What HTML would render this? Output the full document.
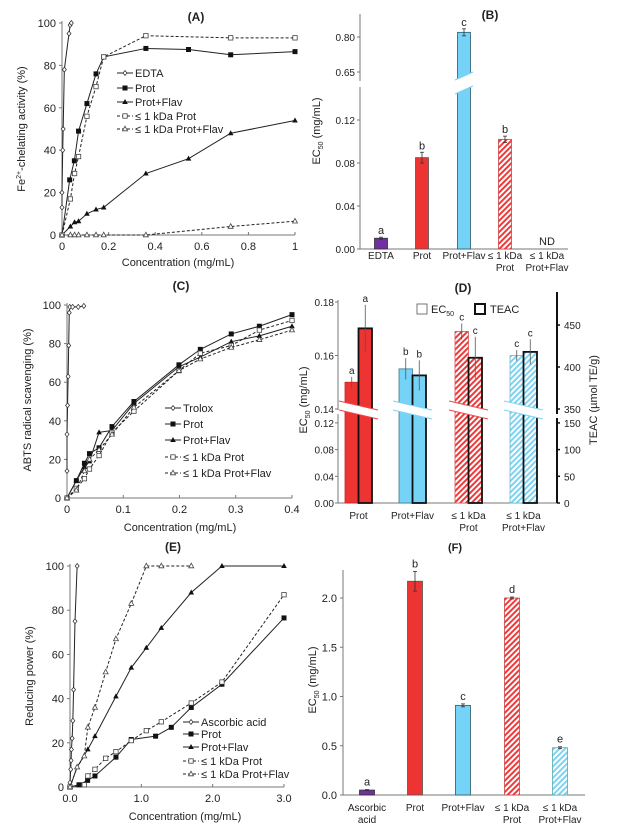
<!DOCTYPE html>
<html><head><meta charset="utf-8"><style>
html,body{margin:0;padding:0;background:#fff;}
svg{display:block;font-family:"Liberation Sans",Arial,sans-serif;}
</style></head><body>
<svg id="fig" width="617" height="828" viewBox="0 0 617 828" xmlns="http://www.w3.org/2000/svg">
<defs>
<pattern id="redHatch" patternUnits="userSpaceOnUse" width="4" height="4" patternTransform="rotate(45)">
<rect width="4" height="4" fill="#fff"/><rect width="2" height="4" fill="#ee3a3a"/></pattern>
<pattern id="blueHatch" patternUnits="userSpaceOnUse" width="4" height="4" patternTransform="rotate(45)">
<rect width="4" height="4" fill="#fff"/><rect width="2" height="4" fill="#7dd3f2"/></pattern>
</defs>
</svg>
<script>
// ===== Panel A data =====
const aEdtaX=[0,0,0.003,0.005,0.01,0.03,0.035,0.04];
const aEdtaY=[13,20,40,50,78,95,99,100];
const aProtX=[0,0.033,0.053,0.071,0.107,0.146,0.179,0.36,0.543,0.724,1];
const aProtY=[0,26,35,49,62,76,84,88,87.5,85,86.5];
const aFlavX=[0,0.036,0.054,0.071,0.107,0.146,0.179,0.36,0.543,0.724,1];
const aFlavY=[0,4,6,6.5,10,12,13,29,36,48,54];
const aSmallProtX=[0,0.036,0.054,0.071,0.107,0.146,0.179,0.36,0.724,1];
const aSmallProtY=[0,17,29,37,56,70,84,94,93,93];
const aSmallFlavX=[0,0.036,0.054,0.071,0.107,0.146,0.179,0.36,0.724,1];
const aSmallFlavY=[0,0,0,0,0,0,0,0,4,6.5];
const aXTicks=[0,0.2,0.4,0.6,0.8,1];
const aXTickLabels=["0","0.2","0.4","0.6","0.8","1"];
const aYTicks=[0,20,40,60,80,100];
// ===== Panel B data =====
const bCats=["EDTA","Prot","Prot+Flav","≤ 1 kDa|Prot","≤ 1 kDa|Prot+Flav"];
const bVals=[0.010,0.085,0.82,0.102,null];
const bErr=[0.001,0.005,0.015,0.003,0];
const bLetters=["a","b","c","b","ND"];
const bLowTicks=[0,0.04,0.08,0.12];
const bLowTickLabels=["0.00","0.04","0.08","0.12"];
const bHighTicks=[0.65,0.80];
const bHighTickLabels=["0.65","0.80"];
// ===== Panel C data =====
const cTroloxX=[0,0,0.001,0.002,0.003,0.004,0.005,0.01,0.02,0.03];
const cTroloxY=[14,33,48,63,79,96,99,99,99,99.5];
const cX=[0,0.0166,0.031,0.04,0.057,0.08,0.119,0.199,0.237,0.292,0.342,0.4];
const cProtY=[0,9,18,23,26,37,50,69,77,85,89,95];
const cFlavY=[0,9,16,19,34,35,49,68,73,81,84,89];
const cSmallProtY=[0,5,10,15,22,34,45,66,75,79,87,92];
const cSmallFlavY=[0,4,14,20,25,33,47,66,72,78,82,87];
const cXTicks=[0,0.1,0.2,0.3,0.4];
const cXTickLabels=["0","0.1","0.2","0.3","0.4"];
const cYTicks=[0,20,40,60,80,100];
// ===== Panel D data =====
const dCats=["Prot","Prot+Flav","≤ 1 kDa|Prot","≤ 1 kDa|Prot+Flav"];
const dEc50=[0.150,0.155,0.169,0.160];
const dEc50Err=[0.002,0.004,0.003,0.002];
const dTeac=[446,390,411,418];
const dTeacErr=[28,18,25,15];
const dEcLetters=["a","b","c","c"];
const dTeLetters=["a","b","c","c"];
const dLeftLow=[0,0.04,0.08,0.12];
const dLeftLowLabels=["0.00","0.04","0.08","0.12"];
const dLeftHigh=[0.14,0.16,0.18];
const dLeftHighLabels=["0.14","0.16","0.18"];
const dRightLow=[0,50,100,150];
const dRightHigh=[350,400,450];
// ===== Panel E data =====
const eAscX=[0,0.01,0.015,0.02,0.03,0.04,0.05,0.07,0.1];
const eAscY=[2,8,12,17,22,30,44,75,100];
const eProtX=[0,0.126,0.247,0.35,0.644,0.859,1.2,1.42,1.7,2.13,3.0];
const eProtY=[0,1,3,5,13.5,21.5,23,27,36,46.5,76.5];
const eSmallProtX=[0,0.2,0.25,0.35,0.5,0.644,0.859,1.07,1.28,1.7,2.13,3.0];
const eSmallProtY=[0,1,5,8,13,16,21,25.5,29.5,38,47.5,87];
const eFlavX=[0,0.1,0.25,0.35,0.644,0.859,1.07,1.28,1.7,2.13,3.0];
const eFlavY=[0,9,17,23,41,54,63,72,88,100,100];
const eSmallFlavX=[0,0.1,0.2,0.25,0.35,0.5,0.644,0.859,1.07,1.28,1.7];
const eSmallFlavY=[0,9,14,27,36,52,67,83,100,100,100];
const eXTicks=[0,1,2,3];
const eXTickLabels=["0.0","1.0","2.0","3.0"];
const eYTicks=[0,20,40,60,80,100];
// ===== Panel F data =====
const fCats=["Ascorbic|acid","Prot","Prot+Flav","≤ 1 kDa|Prot","≤ 1 kDa|Prot+Flav"];
const fVals=[0.05,2.17,0.91,2.0,0.48];
const fErr=[0.005,0.1,0.015,0.01,0.01];
const fLetters=["a","b","c","d","e"];
const fTicks=[0,0.5,1.0,1.5,2.0];
const fTickLabels=["0.0","0.5","1.0","1.5","2.0"];

const NS="http://www.w3.org/2000/svg";
const svg=document.getElementById('fig');
function mk(tag,attrs,name,parent){
  const e=document.createElementNS(NS,tag);
  for(const k in attrs) e.setAttribute(k,attrs[k]);
  
  
  (parent||svg).appendChild(e);
  return e;
}
function txt(x,y,s,opt,name){
  opt=opt||{};
  const t=mk('text',{x:x,y:y,'font-size':opt.size||11,'text-anchor':opt.anchor||'middle',fill:'#222','font-weight':opt.bold?'bold':'normal'},name);
  if(opt.rot) t.setAttribute('transform','rotate(-90 '+x+' '+y+')');
  t.textContent=s;
  return t;
}
function line(x1,y1,x2,y2,name,sw,col,dash){
  const l=mk('line',{x1:x1,y1:y1,x2:x2,y2:y2,stroke:col||'#555','stroke-width':sw||1},name);
  if(dash) l.setAttribute('stroke-dasharray',dash);
  return l;
}
function marker(type,x,y,name){
  if(type==='diamond') mk('polygon',{points:`${x},${y-2.5} ${x+2},${y} ${x},${y+2.5} ${x-2},${y}`,fill:'#fff',stroke:'#222','stroke-width':0.7},name);
  else if(type==='sq') mk('rect',{x:x-2.5,y:y-2.5,width:5,height:5,fill:'#111'},name);
  else if(type==='tri') mk('polygon',{points:`${x},${y-3} ${x+2.8},${y+2} ${x-2.8},${y+2}`,fill:'#111'},name);
  else if(type==='osq') mk('rect',{x:x-2.2,y:y-2.2,width:4.4,height:4.4,fill:'#fff',stroke:'#444','stroke-width':0.8},name);
  else if(type==='otri') mk('polygon',{points:`${x},${y-2.8} ${x+2.5},${y+1.8} ${x-2.5},${y+1.8}`,fill:'#fff',stroke:'#444','stroke-width':0.8},name);
}
function lineChart(c){
  const sx=v=>c.x0+(c.x1-c.x0)*v/c.xmax;
  const sy=v=>c.y0-(c.y0-c.y1)*v/100;
  line(c.x0,c.y0,c.x1,c.y0,c.id+'-x-axis',1,'#777');
  line(c.x0,c.y1-2,c.x0,c.y0,c.id+'-y-axis',1,'#777');
  c.xt.forEach((v,i)=>{line(sx(v),c.y0,sx(v),c.y0-3,c.id+'-x-tick',1,'#777');txt(sx(v),c.y0+15,c.xtl[i],{size:11},c.id+'-x-tick-label');});
  c.yt.forEach(v=>{line(c.x0-3,sy(v),c.x0,sy(v),c.id+'-y-tick',1,'#777');txt(c.x0-6,sy(v)+4,String(v),{size:11,anchor:'end'},c.id+'-y-tick-label');});
  c.series.forEach(s=>{
    const pts=s.x.map((v,i)=>sx(v)+','+sy(s.y[i])).join(' ');
    const p=mk('polyline',{points:pts,fill:'none',stroke:'#222','stroke-width':1},c.id+'-line-'+s.key);
    if(s.dash) p.setAttribute('stroke-dasharray','3,2');
    s.x.forEach((v,i)=>marker(s.m,sx(v),sy(s.y[i]),c.id+'-point-'+s.key));
  });
  c.series.forEach((s,i)=>{
    const y=c.ly[i];
    line(c.lx,y,c.lx+16,y,c.id+'-legend-line',1,'#222',s.dash?'3,2':null);
    marker(s.m,c.lx+8,y,c.id+'-legend-marker');
    txt(c.lx+18,y+4,s.label,{size:11,anchor:'start'},'legend-entry');
  });
  txt(c.tx,c.ty,c.title,{bold:true,size:12},c.id+'-title');
  txt(c.xlx,c.xly,'Concentration (mg/mL)',{size:11},c.id+'-x-axis-title');
}
// Panel A
lineChart({id:'a',x0:62,x1:295,xmax:1,y0:235,y1:23,xt:aXTicks,xtl:aXTickLabels,yt:aYTicks,
 series:[{key:'edta',x:aEdtaX,y:aEdtaY,m:'diamond',label:'EDTA'},
 {key:'prot',x:aProtX,y:aProtY,m:'sq',label:'Prot'},
 {key:'prot-flav',x:aFlavX,y:aFlavY,m:'tri',label:'Prot+Flav'},
 {key:'small-prot',x:aSmallProtX,y:aSmallProtY,m:'osq',dash:true,label:'≤  1 kDa Prot'},
 {key:'small-prot-flav',x:aSmallFlavX,y:aSmallFlavY,m:'otri',dash:true,label:'≤ 1 kDa Prot+Flav'}],
 lx:117,ly:[73,88,102,116,129],title:'(A)',tx:196,ty:21,xlx:178,xly:266});
(function(){const t=txt(25,129,'',{size:11,rot:true},'a-y-axis-title');t.innerHTML='Fe<tspan font-size="7" dy="-4">2+</tspan><tspan dy="4">-chelating activity (%)</tspan>';})();
// Panel C
lineChart({id:'c',x0:67,x1:292,xmax:0.4,y0:498,y1:305,xt:cXTicks,xtl:cXTickLabels,yt:cYTicks,
 series:[{key:'trolox',x:cTroloxX,y:cTroloxY,m:'diamond',label:'Trolox'},
 {key:'prot',x:cX,y:cProtY,m:'sq',label:'Prot'},
 {key:'prot-flav',x:cX,y:cFlavY,m:'tri',label:'Prot+Flav'},
 {key:'small-prot',x:cX,y:cSmallProtY,m:'osq',dash:true,label:'≤ 1 kDa Prot'},
 {key:'small-prot-flav',x:cX,y:cSmallFlavY,m:'otri',dash:true,label:'≤ 1 kDa Prot+Flav'}],
 lx:165,ly:[408,424,440,457,473],title:'(C)',tx:181,ty:290,xlx:180,xly:531});
txt(31,400,'ABTS radical scavenging (%)',{size:11,rot:true},'c-y-axis-title');
// Panel E
lineChart({id:'e',x0:70,x1:284,xmax:3,y0:787,y1:566,xt:eXTicks,xtl:eXTickLabels,yt:eYTicks,
 series:[{key:'ascorbic',x:eAscX,y:eAscY,m:'diamond',label:'Ascorbic acid'},
 {key:'prot',x:eProtX,y:eProtY,m:'sq',label:'Prot'},
 {key:'prot-flav',x:eFlavX,y:eFlavY,m:'tri',label:'Prot+Flav'},
 {key:'small-prot',x:eSmallProtX,y:eSmallProtY,m:'osq',dash:true,label:'≤ 1 kDa Prot'},
 {key:'small-prot-flav',x:eSmallFlavX,y:eSmallFlavY,m:'otri',dash:true,label:'≤ 1 kDa Prot+Flav'}],
 lx:183,ly:[722,734,747,761,774],title:'(E)',tx:173,ty:551,xlx:185,xly:820});
txt(33,676,'Reducing power  (%)',{size:11,rot:true},'e-y-axis-title');

const fills=[{f:'#7030a0'},{f:'#ee3333'},{f:'#75d3f7'},{f:'url(#redHatch)'},{f:'url(#blueHatch)'}];
const strokes=['#333','#555','#2a5a6a','#c44','#5aa'];
function catLabel(x,y,s,name){s.split('|').forEach((p,i)=>txt(x,y+i*12,p,{size:10},name));}
function ecLabel(x,y,name){const t=txt(x,y,'',{size:11,rot:true},name);t.innerHTML='EC<tspan font-size="7" dy="3">50</tspan><tspan dy="-3"> (mg/mL)</tspan>';}
function errBar(cx,y1,y2,name){line(cx,y1,cx,y2,name,0.8,'#333');line(cx-2,y1,cx+2,y1,name+'-cap',0.8,'#333');line(cx-2,y2,cx+2,y2,name+'-cap',0.8,'#333');}

// Panel B
(function(){
  const ax=360,by=249,centers=[381,422,464,505,547],w=13;
  const sy=v=>v<=0.15? by-v/0.04*43 : 37-(v-0.80)/0.15*35;
  line(ax,14,ax,81,'b-y-axis-upper',1,'#777');
  line(ax,87,ax,by,'b-y-axis-lower',1,'#777');
  line(ax,by,568,by,'b-x-axis',1,'#777');
  bLowTicks.forEach((v,i)=>{line(ax-3,sy(v),ax,sy(v),'b-y-tick',1,'#777');txt(ax-5,sy(v)+4,bLowTickLabels[i],{size:10,anchor:'end'},'b-y-tick-label');});
  bHighTicks.forEach((v,i)=>{line(ax-3,sy(v),ax,sy(v),'b-y-tick',1,'#777');txt(ax-5,sy(v)+4,bHighTickLabels[i],{size:10,anchor:'end'},'b-y-tick-label');});
  bVals.forEach((v,i)=>{
    const cx=centers[i];
    catLabel(cx,259,bCats[i],'b-category-label');
    if(v===null){txt(cx,245,bLetters[i],{size:11},'b-nd-label');return;}
    const top=sy(v);
    mk('rect',{x:cx-w/2,y:top,width:w,height:by-top,fill:fills[i].f,stroke:strokes[i],'stroke-width':0.8},'b-bar-'+i);
    const e1=sy(v+bErr[i]),e2=sy(v-bErr[i]);
    errBar(cx,e1,e2,'b-error-bar');
    txt(cx,e1-3,bLetters[i],{size:11},'b-significance-letter');
  });
  mk('polygon',{points:`${464-9},${80} ${464+9},${72} ${464+9},${86} ${464-9},${94}`,fill:'#fff'},'b-axis-break');
  line(455,80,473,72,'b-break-line',1,'#75d3f7');line(455,94,473,86,'b-break-line',1,'#75d3f7');
  txt(490,19,'(B)',{bold:true,size:12},'b-title');
  ecLabel(320,131,'b-y-axis-title');
})();

// Panel D
(function(){
  const ax=338,rx=557,by=503;
  const sl=v=>v<=0.135? by-v/0.04*26.7 : 409-(v-0.14)/0.02*53.5;
  const sr=v=>v<=160? by-v/50*26.7 : 409-(v-350)/50*42;
  line(ax,300,ax,410,'d-left-axis-upper',1,'#777');
  line(ax,414,ax,by,'d-left-axis-lower',1,'#777');
  line(ax,by,rx,by,'d-x-axis',1,'#777');
  line(rx,292,rx,414,'d-right-axis-upper',2,'#111');
  line(rx,418,rx,by,'d-right-axis-lower',2,'#111');
  dLeftLow.forEach((v,i)=>{line(ax-3,sl(v),ax,sl(v),'d-left-tick',1,'#777');txt(ax-4,sl(v)+4,dLeftLowLabels[i],{size:10,anchor:'end'},'d-left-tick-label');});
  dLeftHigh.forEach((v,i)=>{line(ax-3,sl(v),ax,sl(v),'d-left-tick',1,'#777');txt(ax-4,sl(v)+4,dLeftHighLabels[i],{size:10,anchor:'end'},'d-left-tick-label');});
  dRightLow.concat(dRightHigh).forEach(v=>{line(rx,sr(v),rx+3,sr(v),'d-right-tick',1.5,'#111');txt(rx+7,sr(v)+4,String(v),{size:10,anchor:'start'},'d-right-tick-label');});
  const gx=[345,399,455,510],w=13.5;
  const gf=['#ee3333','#75d3f7','url(#redHatch)','url(#blueHatch)'];
  const gs=['#c22','#3a7a90','#d55','#6bc'];
  dCats.forEach((c,i)=>{
    const x=gx[i];
    const t1=sl(dEc50[i]);
    mk('rect',{x:x,y:t1,width:w,height:by-t1,fill:gf[i],stroke:gs[i],'stroke-width':0.8},'d-ec50-bar-'+i);
    const t2=sr(dTeac[i]);
    mk('rect',{x:x+w,y:t2,width:w,height:by-t2,fill:gf[i],stroke:'#111','stroke-width':1.8},'d-teac-bar-'+i);
    const a1=sl(dEc50[i]+dEc50Err[i]),a2=sl(dEc50[i]-dEc50Err[i]);
    line(x+w/2,a1,x+w/2,a2,'d-ec50-error-bar',0.8,'#555');
    txt(x+w/2,a1-3,dEcLetters[i],{size:10},'d-ec50-letter');
    const b1=sr(dTeac[i]+dTeacErr[i]),b2=sr(dTeac[i]-dTeacErr[i]);
    line(x+1.5*w,b1,x+1.5*w,b2,'d-teac-error-bar',0.8,'#555');
    txt(x+1.5*w,b1-3,dTeLetters[i],{size:10},'d-teac-letter');
    const col=i%2===0?'#ee4444':'#7dd3f2';
    mk('polygon',{points:`${x-6},${401} ${x+2*w+6},${410} ${x+2*w+6},${419} ${x-6},${410}`,fill:'#fff'},'d-axis-break');
    line(x-6,401,x+2*w+6,410,'d-break-line',1,col);
    line(x-6,410,x+2*w+6,419,'d-break-line',1,col);
    catLabel(x+w,519,c,'d-category-label');
  });
  mk('rect',{x:417,y:304,width:10,height:10,fill:'#fff',stroke:'#555','stroke-width':0.8},'d-legend-ec50-box');
  const lt=txt(431,313,'',{size:11,anchor:'start'},'legend-entry');lt.innerHTML='EC<tspan font-size="7" dy="3">50</tspan>';
  mk('rect',{x:475,y:304,width:10,height:10,fill:'#fff',stroke:'#111','stroke-width':2},'d-legend-teac-box');
  txt(490,313,'TEAC',{size:11,anchor:'start'},'legend-entry');
  txt(463,292,'(D)',{bold:true,size:12},'d-title');
  ecLabel(307,400,'d-left-axis-title');
  txt(597,400,'TEAC (µmol TE/g)',{size:11,rot:true},'d-right-axis-title');
})();

// Panel F
(function(){
  const ax=343,by=795,centers=[367,415,463,512,560],w=15;
  const sy=v=>by-v*98.5;
  line(ax,570,ax,by,'f-y-axis',1,'#777');
  line(ax,by,585,by,'f-x-axis',1,'#777');
  fTicks.forEach((v,i)=>{line(ax-3,sy(v),ax,sy(v),'f-y-tick',1,'#777');txt(ax-6,sy(v)+4,fTickLabels[i],{size:11,anchor:'end'},'f-y-tick-label');});
  fVals.forEach((v,i)=>{
    const cx=centers[i],top=sy(v);
    mk('rect',{x:cx-w/2,y:top,width:w,height:by-top,fill:fills[i].f,stroke:strokes[i],'stroke-width':0.8},'f-bar-'+i);
    const e1=sy(v+fErr[i]),e2=sy(v-fErr[i]);
    errBar(cx,e1,e2,'f-error-bar');
    txt(cx,e1-4,fLetters[i],{size:11},'f-significance-letter');
    catLabel(cx,811,fCats[i],'f-category-label');
  });
  txt(455,551,'(F)',{bold:true,size:11},'f-title');
  ecLabel(316,680,'f-y-axis-title');
})();
</script>
</body></html>
